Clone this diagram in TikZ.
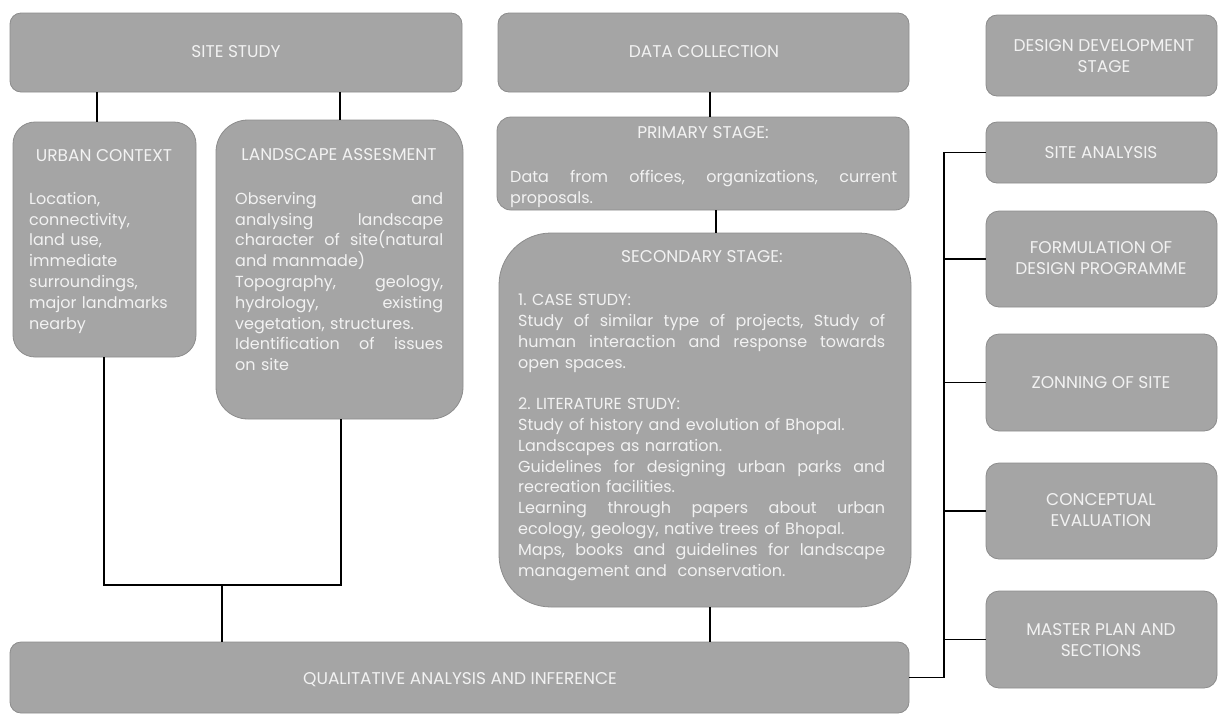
\documentclass[tikz,border=0pt]{standalone}
\usepackage{fontspec}
\setmainfont{Poppins}
\usepackage{graphicx}
\frenchspacing
\definecolor{boxfill}{HTML}{A5A5A5}
\definecolor{boxline}{HTML}{8C8C8C}
\definecolor{boxtext}{HTML}{F2F2F2}
\newcommand\jline[2]{\leavevmode\hbox to #1{\spaceskip=0.26em plus 1fil minus 0.12em\relax #2}}
\tikzset{
  box/.style={draw=boxline, fill=boxfill, line width=0.8pt, inner sep=0pt, outer sep=0pt, anchor=north west},
  ttl/.style={text=boxtext, font=\fontsize{17}{21}\selectfont, align=center, inner sep=0pt},
  bodytxt/.style={text=boxtext, font=\fontsize{16}{20.8}\selectfont, align=left, inner sep=0pt, anchor=north west},
  conn/.style={draw=black, line width=1.4pt},
}
\begin{document}
\begin{tikzpicture}[x=1pt,y=-1pt]
\useasboundingbox (0,0) rectangle (1218,716);
% boxes
\node[box, rounded corners=11pt, minimum width=452pt, minimum height=79pt] (site) at (10,13) {};
\node[box, rounded corners=11pt, minimum width=411pt, minimum height=79pt] (data) at (498,13) {};
\node[box, rounded corners=11pt, minimum width=231pt, minimum height=81pt] (dds) at (986,15) {};
\node[box, rounded corners=22pt, minimum width=183pt, minimum height=235pt] (urban) at (13,122) {};
\node[box, rounded corners=32pt, minimum width=247pt, minimum height=299pt] (land) at (216,120) {};
\node[box, rounded corners=14pt, minimum width=412pt, minimum height=93pt] (prim) at (497,117) {};
\node[box, rounded corners=52pt, minimum width=412pt, minimum height=374pt] (sec) at (499,233) {};
\node[box, rounded corners=11pt, minimum width=899pt, minimum height=71pt] (qa) at (10,642) {};
\node[box, rounded corners=11pt, minimum width=231pt, minimum height=61pt] (sa) at (986,122) {};
\node[box, rounded corners=13pt, minimum width=231pt, minimum height=96pt] (form) at (986,211) {};
\node[box, rounded corners=13pt, minimum width=231pt, minimum height=97pt] (zon) at (986,334) {};
\node[box, rounded corners=13pt, minimum width=231pt, minimum height=96pt] (con) at (986,463) {};
\node[box, rounded corners=13pt, minimum width=231pt, minimum height=97pt] (mp) at (986,591) {};
% titles
\node[ttl] (siteT) at (236,52) {SITE STUDY};
\node[ttl] (dataT) at (704,52) {DATA COLLECTION};
\node[ttl] (ddsT) at (1104,56) {DESIGN DEVELOPMENT\\STAGE};
\node[ttl] (urbanT) at (104,156) {URBAN CONTEXT};
\node[ttl] (landT) at (339,155) {LANDSCAPE ASSESMENT};
\node[ttl] (primT) at (703,133) {PRIMARY STAGE:};
\node[ttl] (secT) at (702,257) {SECONDARY STAGE:};
\node[ttl] (qaT) at (460,680) {QUALITATIVE ANALYSIS AND INFERENCE};
\node[ttl] (saT) at (1101,153) {SITE ANALYSIS};
\node[ttl] (formT) at (1101,258) {FORMULATION OF\\DESIGN PROGRAMME};
\node[ttl] (zonT) at (1101,383) {ZONNING OF SITE};
\node[ttl] (conT) at (1101,510) {CONCEPTUAL\\EVALUATION};
\node[ttl] (mpT) at (1101,640) {MASTER PLAN AND\\SECTIONS};
% body texts
\node[bodytxt, text width=160pt] (urbanB) at (29,192) {Location,\\connectivity,\\land use,\\immediate\\surroundings,\\major landmarks\\nearby};
\node[bodytxt, text width=208pt] (landB) at (235,192) {\jline{208pt}{Observing and}\\\jline{208pt}{analysing landscape}\\\jline{208pt}{character of site(natural}\\and manmade)\\\jline{208pt}{Topography, geology,}\\\jline{208pt}{hydrology, existing}\\vegetation, structures.\\\jline{208pt}{Identification of issues}\\on site};
\node[bodytxt, text width=387pt] (primB) at (510,170) {\jline{387pt}{Data from offices, organizations, current}\\proposals.};
\node[bodytxt, text width=367pt] (secB) at (518,294) {1. CASE STUDY:\\\jline{367pt}{Study of similar type of projects, Study of}\\\jline{367pt}{human interaction and response towards}\\open spaces.\\\mbox{}\\2. LITERATURE STUDY:\\Study of history and evolution of Bhopal.\\Landscapes as narration.\\\jline{367pt}{Guidelines for designing urban parks and}\\recreation facilities.\\\jline{367pt}{Learning through papers about urban}\\ecology, geology, native trees of Bhopal.\\\jline{367pt}{Maps, books and guidelines for landscape}\\management and\ \ conservation.};
% connectors
\coordinate (xa) at (97,0);
\coordinate (xb) at (340,0);
\coordinate (xc) at (710,0);
\coordinate (xd) at (716,0);
\coordinate (jl) at (104,585);
\coordinate (jr) at (341,585);
\coordinate (jm) at (222,585);
\coordinate (bus) at (944,0);
\draw[conn] (xa |- site.south) -- (xa |- urban.north);
\draw[conn] (xb |- site.south) -- (xb |- land.north);
\draw[conn] (xc |- data.south) -- (xc |- prim.north);
\draw[conn] (xd |- prim.south) -- (xd |- sec.north);
\draw[conn] (jl |- urban.south) -- (jl) -- (jr) -- (jr |- land.south);
\draw[conn] (jm) -- (jm |- qa.north);
\draw[conn] (xc |- sec.south) -- (xc |- qa.north);
\draw[conn] (qa.east) -- (bus |- qa.east) -- (bus |- sa.west) -- (sa.west);
\draw[conn] (bus |- form.west) -- (form.west);
\draw[conn] (bus |- zon.west) -- (zon.west);
\draw[conn] (bus |- con.west) -- (con.west);
\draw[conn] (bus |- mp.west) -- (mp.west);
\end{tikzpicture}
\end{document}
